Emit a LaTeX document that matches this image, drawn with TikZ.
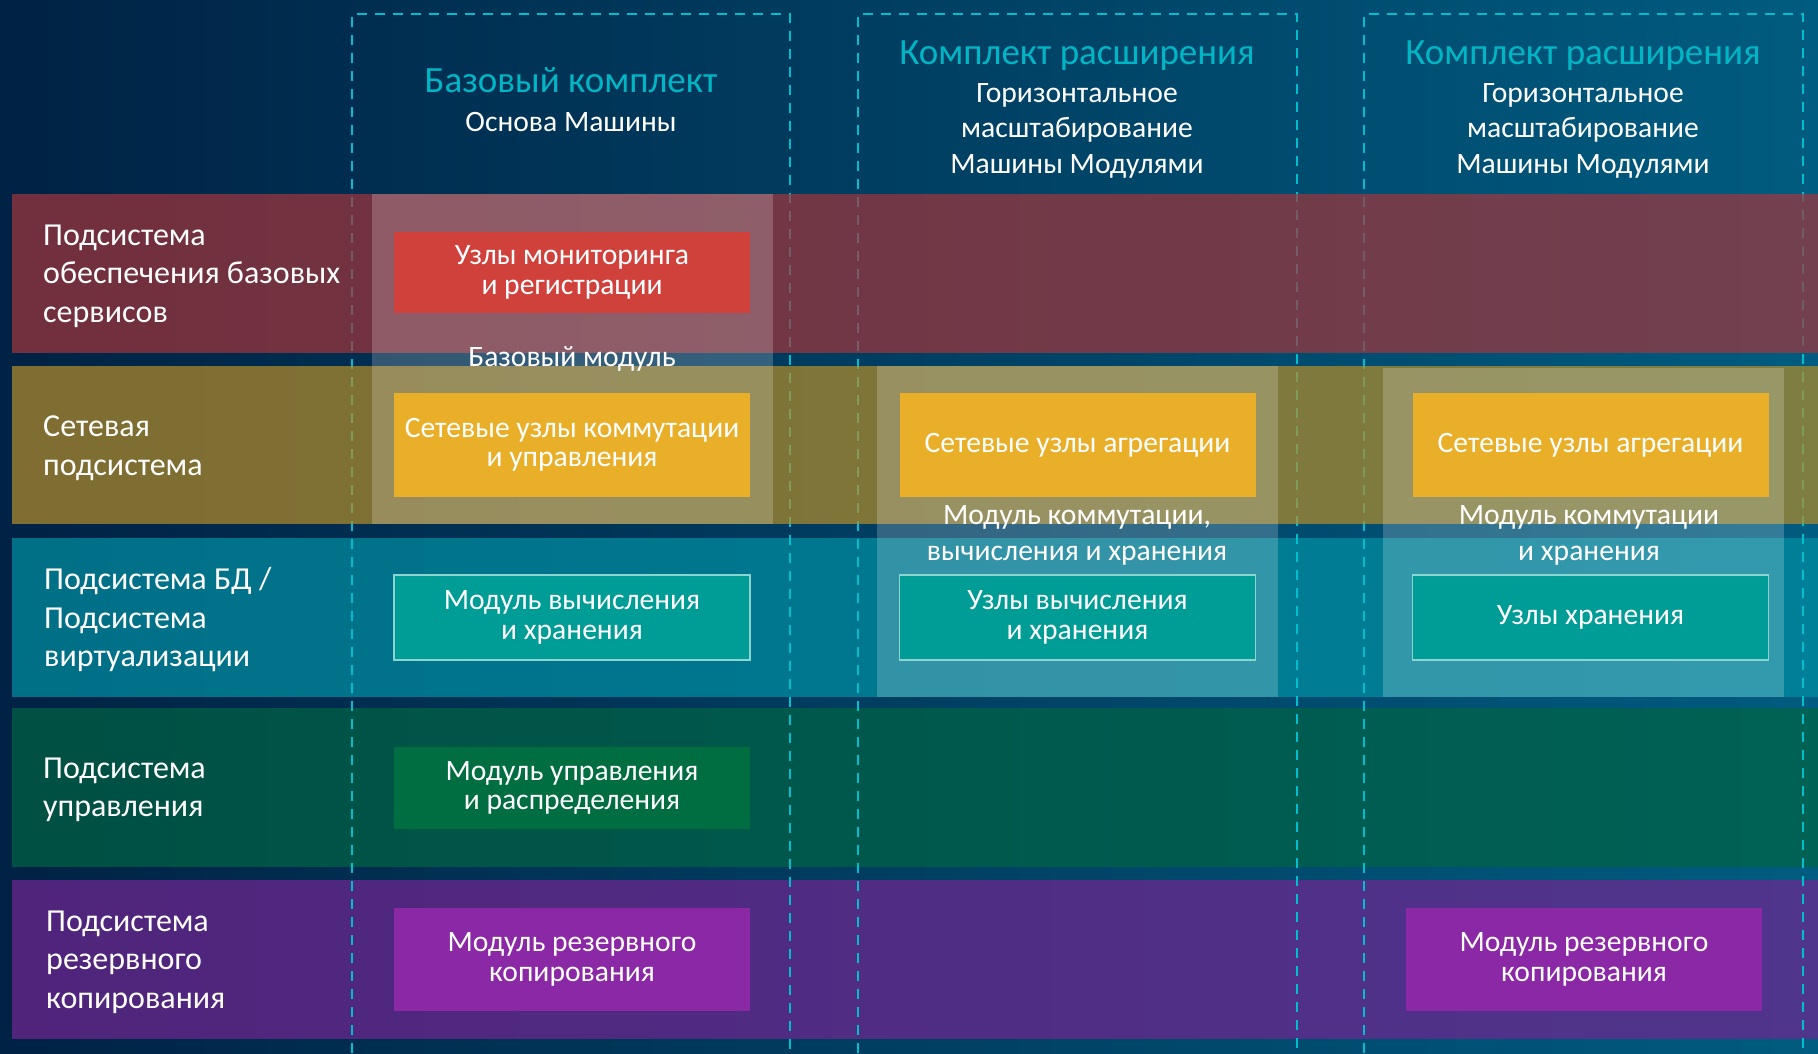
\documentclass[tikz,border=0pt]{standalone}
\usepackage{fontspec}
\setmainfont{Carlito}
\definecolor{bgL}{RGB}{0,34,68}
\definecolor{bgR}{RGB}{0,92,128}
\definecolor{bandRed}{RGB}{163,53,59}
\definecolor{bandYel}{RGB}{181,141,41}
\definecolor{bandTeal}{RGB}{0,145,164}
\definecolor{bandGreen}{RGB}{0,100,68}
\definecolor{bandPurple}{RGB}{114,37,147}
\definecolor{dashCyan}{RGB}{0,190,205}
\definecolor{headCyan}{RGB}{0,182,198}
\definecolor{nodeRed}{RGB}{209,65,60}
\definecolor{nodeYel}{RGB}{233,175,41}
\definecolor{nodeTeal}{RGB}{0,156,150}
\definecolor{nodeTealEdge}{RGB}{140,212,208}
\definecolor{nodeGreen}{RGB}{0,110,65}
\definecolor{nodePurple}{RGB}{138,40,165}
\tikzset{
  band/.style={fill opacity=0.7},
  kitbox/.style={draw=dashCyan, line width=2.3pt, dash pattern=on 10pt off 8pt},
  modarea/.style={fill=white, fill opacity=0.2},
  modbox/.style={minimum width=356pt, inner sep=0pt, align=center, text=white,
    font=\fontsize{29.6}{29.5}\selectfont},
  rowlabel/.style={anchor=west, align=left, text=white, inner sep=0pt,
    font=\fontsize{32}{38.5}\selectfont},
  headtitle/.style={anchor=base, text=headCyan, inner sep=0pt, font=\fontsize{37}{42}\selectfont},
  headline/.style={anchor=base, text=white, inner sep=0pt, font=\fontsize{29.6}{35}\selectfont},
}
\begin{document}
\begin{tikzpicture}[x=1pt,y=-1pt]
% backdrop
\shade[left color=bgL, middle color=bgL, right color=bgR] (0,0) rectangle (1818,1053);
\useasboundingbox (0,0) rectangle (1818,1053);

% lower subsystem bands
\fill[band, bandTeal]   (12,538) rectangle (1818,697);
\fill[band, bandGreen]  (12,708) rectangle (1818,867);
\fill[band, bandPurple] (12,880) rectangle (1818,1039);

% kit columns (open at the bottom)
\draw[kitbox] (352,1053) -- (352,14) -- (790,14) -- (790,1053);
\draw[kitbox] (858,1053) -- (858,14) -- (1297,14) -- (1297,1053);
\draw[kitbox] (1364,1053) -- (1364,14) -- (1803,14) -- (1803,1053);

% upper subsystem bands
\fill[band, bandRed] (12,194) rectangle (1818,353);
\fill[band, bandYel] (12,366) rectangle (1818,524);

% module areas
\fill[modarea] (372,194) rectangle (773,524);
\fill[modarea] (877,366) rectangle (1278,697);
\fill[modarea] (1383,368) rectangle (1784,697);

% column headings
\node[headtitle] (h1) at (571,92) {Базовый комплект};
\node[headline] (h1a) at (571,131) {Основа Машины};

\node[headtitle] (h2) at (1077,64) {Комплект расширения};
\node[headline] (h2a) at (1077,102) {Горизонтальное};
\node[headline] (h2b) at (1077,137) {масштабирование};
\node[headline] (h2c) at (1077,173) {Машины Модулями};

\node[headtitle] (h3) at (1583,64) {Комплект расширения};
\node[headline] (h3a) at (1583,102) {Горизонтальное};
\node[headline] (h3b) at (1583,137) {масштабирование};
\node[headline] (h3c) at (1583,173) {Машины Модулями};

% row labels
\node[rowlabel] (r1) at (43,276) {Подсистема\\обеспечения базовых\\сервисов};
\node[rowlabel] (r2) at (43,448) {Сетевая\\подсистема};
\node[rowlabel] (r3) at (44,620) {Подсистема БД /\\Подсистема\\виртуализации};
\node[rowlabel] (r4) at (43,790) {Подсистема\\управления};
\node[rowlabel] (r5) at (46,962) {Подсистема\\резервного\\копирования};

% module captions
\node[headline] (m1) at (572,366) {Базовый модуль};
\node[headline] (m2a) at (1077,524) {Модуль коммутации,};
\node[headline] (m2b) at (1077,560) {вычисления и хранения};
\node[headline] (m3a) at (1589,524) {Модуль коммутации};
\node[headline] (m3b) at (1589,560) {и хранения};

% base kit nodes
\node[modbox, fill=nodeRed, minimum height=81pt] (mon) at (572,272.5) {Узлы мониторинга\\и регистрации};
\node[modbox, fill=nodeYel, minimum height=104pt] (sw) at (572,445) {Сетевые узлы коммутации\\и управления};
\node[modbox, fill=nodeTeal, draw=nodeTealEdge, line width=1.5pt, minimum height=85pt] (cs) at (572,617.5) {Модуль вычисления\\и хранения};
\node[modbox, fill=nodeGreen, minimum height=82pt] (mg) at (572,788) {Модуль управления\\и распределения};
\node[modbox, fill=nodePurple, minimum height=103pt] (bk1) at (572,959.5) {Модуль резервного\\копирования};

% first extension kit nodes
\node[modbox, fill=nodeYel, minimum height=104pt] (ag2) at (1077.5,445) {Сетевые узлы агрегации};
\node[modbox, fill=nodeTeal, draw=nodeTealEdge, line width=1.5pt, minimum height=85pt] (cs2) at (1077.5,617.5) {Узлы вычисления\\и хранения};

% second extension kit nodes
\node[modbox, fill=nodeYel, minimum height=104pt] (ag3) at (1590.5,445) {Сетевые узлы агрегации};
\node[modbox, fill=nodeTeal, draw=nodeTealEdge, line width=1.5pt, minimum height=85pt] (st3) at (1590.5,617.5) {Узлы хранения};
\node[modbox, fill=nodePurple, minimum height=103pt] (bk3) at (1584,959.5) {Модуль резервного\\копирования};
\end{tikzpicture}
\end{document}
